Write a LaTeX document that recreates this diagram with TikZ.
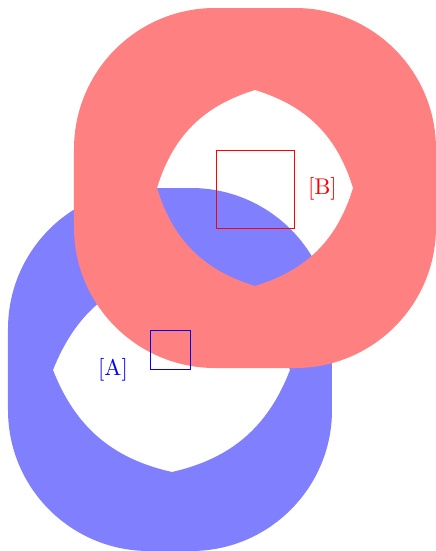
\documentclass[tikz,border=0pt]{standalone}
\usepackage{tikz}
\usetikzlibrary{positioning}

\tikzset{
  ring/.style={even odd rule},
  markbox/.style={draw=#1, inner sep=0pt},
  marklabel/.style={text=#1, inner sep=2pt}
}

\begin{document}
\begin{tikzpicture}[x=0.44pt, y=-0.44pt]
  \useasboundingbox (0,0) rectangle (436,551);

  % blue ring with lens hole
  \fill[blue!50, ring] [rounded corners=62pt] (8,188) rectangle (332,551)
    [sharp corners] (53,370) to[bend left=28] (172,269) to[bend left=28] (290,370)
    to[bend left=28] (172,472) to[bend left=28] (53,370) -- cycle;

  % red ring on top
  \fill[red!50, ring] [rounded corners=62pt] (74,8) rectangle (436,368)
    [sharp corners] (157,188) to[bend left=28] (255,90) to[bend left=28] (353,188)
    to[bend left=28] (255,286) to[bend left=28] (157,188) -- cycle;

  \node[markbox=blue, minimum size=17.2pt] (boxA) at (170.5,349.5) {};
  \node[markbox=red, minimum size=34.3pt] (boxB) at (255,189) {};

  \node[marklabel=blue] (labA) at (113,370) {[A]};
  \node[marklabel=red, right=3.8pt of boxB] (labB) {[B]};
\end{tikzpicture}
\end{document}
